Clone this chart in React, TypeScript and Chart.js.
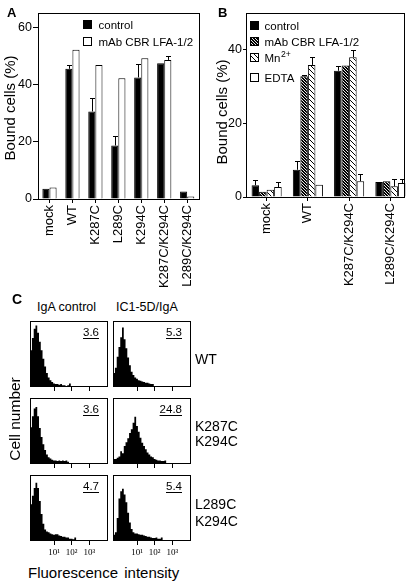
import React, { useEffect, useRef } from 'react';
import { Chart, registerables } from 'chart.js';
Chart.register(...registerables);

const SANS = '"Liberation Sans", Arial, Helvetica, sans-serif';
const SERIF = '"Liberation Serif", "DejaVu Serif", serif';
Chart.defaults.font.family = SANS;
Chart.defaults.color = '#000';

// ---------- Panel A data ----------
const A_CATEGORIES = ['mock', 'WT', 'K287C', 'L289C', 'K294C', 'K287C/K294C', 'L289C/K294C'];
const A_CONTROL = [3.6, 45.5, 30.6, 18.7, 42.5, 47.4, 2.6];
const A_CONTROL_ERR = [null, 47, 35.3, 21.9, 47.2, null, null];
const A_MAB = [4.0, 52.2, 46.8, 42.2, 49.2, 48.6, 0.9];
const A_MAB_ERR = [null, null, null, null, null, 49.9, null];
const A_Y_TICKS = [0, 20, 40, 60];
const A_SERIES = ['control', 'mAb CBR LFA-1/2'];

// ---------- Panel B data ----------
const B_CATEGORIES = ['mock', 'WT', 'K287C/K294C', 'L289C/K294C'];
const B_CONTROL = [3.2, 7.4, 34.3, 4.1];
const B_CONTROL_ERR = [4.7, 9.7, 35.7, null];
const B_MAB = [1.4, 32.8, 35.7, 4.3];
const B_MAB_ERR = [null, 33.2, null, null];
const B_MN = [2.0, 35.9, 38.0, 2.9];
const B_MN_ERR = [null, 38.0, 40.0, 5.0];
const B_EDTA = [2.7, 3.3, 4.3, 3.8];
const B_EDTA_ERR = [4.0, null, 6.3, 5.0];
const B_Y_TICKS = [0, 20, 40];
const B_SERIES = ['control', 'mAb CBR LFA-1/2', 'Mn2+', 'EDTA'];

// ---------- Panel C data (histograms, log10 fluorescence bins) ----------
const HIST_BIN_EDGES = [-0.36, -0.25, -0.15, -0.05, 0.05, 0.15, 0.25, 0.35, 0.45, 0.55, 0.65, 0.75, 0.85, 0.95,
  1.05, 1.15, 1.25, 1.35, 1.45, 1.55, 1.65, 1.75, 1.85, 1.95, 2.05, 2.15, 2.25, 2.35, 2.45, 2.55, 2.65, 2.75, 2.85, 2.95, 3.05];
const HIST_WT_IGA = [40, 55, 74, 88, 93, 82, 68, 55, 42, 30, 20, 13, 9, 6, 4, 3, 3, 2, 3, 1, 1, 0, 1, 4, 0, 0, 0, 0, 0, 0, 0, 0, 0, 0, 0];
const HIST_WT_IC1 = [12, 20, 28, 45, 60, 75, 90, 72, 58, 44, 32, 22, 17, 13, 11, 9, 8, 7, 6, 5, 5, 4, 3, 3, 0, 0, 0, 0, 0, 0, 0, 0, 0, 0, 0];
const HIST_KK_IGA = [33, 55, 72, 84, 86, 72, 54, 40, 29, 20, 13, 9, 7, 5, 4, 4, 3, 4, 3, 4, 3, 4, 2, 0, 0, 0, 0, 0, 0, 0, 0, 0, 0, 0, 0];
const HIST_KK_IC1 = [5, 6, 6, 8, 10, 18, 15, 26, 32, 38, 46, 52, 62, 71, 57, 48, 39, 31, 26, 21, 16, 13, 10, 9, 6, 5, 4, 4, 3, 3, 4, 0, 0, 0, 0];
const HIST_LK_IGA = [44, 55, 68, 80, 88, 80, 60, 40, 25, 16, 13, 12, 10, 9, 8, 9, 9, 7, 6, 5, 5, 4, 4, 2, 2, 1, 4, 0, 0, 0, 0, 0, 0, 0, 0];
const HIST_LK_IC1 = [4, 8, 12, 34, 64, 75, 79, 70, 58, 42, 27, 17, 12, 10, 10, 9, 8, 8, 7, 6, 5, 5, 4, 3, 3, 4, 2, 2, 4, 0, 0, 0, 0, 0, 0];
const HIST_TICKS = [1, 2, 3];
const HIST_TICK_LABELS = ['10¹', '10²', '10³'];
const C_COLUMNS = ['IgA control', 'IC1-5D/IgA'];
const C_ROWS = [['WT'], ['K287C', 'K294C'], ['L289C', 'K294C']];
const C_VALUES = [['3.6', '5.3'], ['3.6', '24.8'], ['4.7', '5.4']];
const C_HISTS = [[HIST_WT_IGA, HIST_WT_IC1], [HIST_KK_IGA, HIST_KK_IC1], [HIST_LK_IGA, HIST_LK_IC1]];

// ---------- plugins ----------
const framePlugin = {
  id: 'frame',
  afterDatasetsDraw(chart: any, _a: any, opts: any) {
    const { ctx, chartArea } = chart;
    const l = Math.round(chartArea.left) + (opts.dl || 0);
    const r = opts.right != null ? opts.right : Math.round(chartArea.right);
    const t = Math.round(chartArea.top), b = Math.round(chartArea.bottom);
    ctx.save();
    ctx.strokeStyle = '#000';
    ctx.lineWidth = 1;
    ctx.strokeRect(l + 0.5, t + 0.5, r - l, b - t);
    ctx.restore();
  },
};

const errPlugin = {
  id: 'errbars',
  afterDatasetsDraw(chart: any) {
    const { ctx } = chart;
    const ys = chart.scales.y;
    ctx.save();
    ctx.strokeStyle = '#000';
    ctx.lineWidth = 1;
    chart.data.datasets.forEach((ds: any, di: number) => {
      if (!ds.errTop) return;
      const meta = chart.getDatasetMeta(di);
      meta.data.forEach((bar: any, i: number) => {
        const e = ds.errTop[i];
        if (e == null) return;
        const x = Math.round(bar.x) + 0.5;
        const y1 = Math.round(ys.getPixelForValue(e)) + 0.5;
        ctx.beginPath();
        ctx.moveTo(x, bar.y);
        ctx.lineTo(x, y1);
        ctx.moveTo(x - 2.5, y1);
        ctx.lineTo(x + 2.5, y1);
        ctx.stroke();
      });
    });
    ctx.restore();
  },
};

const swatchLegend = {
  id: 'swatchLegend',
  afterDraw(chart: any, _a: any, opts: any) {
    if (!opts || !opts.rows) return;
    const { ctx, chartArea } = chart;
    ctx.save();
    chart.data.datasets.forEach((ds: any, i: number) => {
      const s = opts.size;
      const x = Math.round(chartArea.left + opts.x) + 0.5;
      const y = Math.round(chartArea.top + opts.rows[i]) + 0.5;
      ctx.fillStyle = ds.backgroundColor;
      ctx.fillRect(x, y, s, s);
      ctx.strokeStyle = '#000';
      ctx.lineWidth = 1;
      ctx.strokeRect(x, y, s, s);
      ctx.fillStyle = '#000';
      ctx.textBaseline = 'alphabetic';
      const m = /^(.*?)(\d\+)$/.exec(ds.label);
      const base = m ? m[1] : ds.label;
      const tx = x + opts.textDx;
      const ty = y + s / 2 + opts.fontSize * 0.36;
      ctx.font = `${opts.fontSize}px ${SANS}`;
      ctx.fillText(base, tx, ty);
      if (m) {
        const w = ctx.measureText(base).width;
        ctx.font = `${opts.fontSize * 0.75}px ${SANS}`;
        ctx.fillText(m[2], tx + w + 0.5, ty - opts.fontSize * 0.42);
      }
    });
    ctx.restore();
  },
};

function hatch(bg: string, fg: string, size: number, lw: number) {
  const c = document.createElement('canvas');
  c.width = size;
  c.height = size;
  const g = c.getContext('2d')!;
  g.fillStyle = bg;
  g.fillRect(0, 0, size, size);
  g.strokeStyle = fg;
  g.lineWidth = lw;
  g.beginPath();
  g.moveTo(-1, -1); g.lineTo(size + 1, size + 1);
  g.moveTo(-1, size - 1); g.lineTo(1, size + 1);
  g.moveTo(size - 1, -1); g.lineTo(size + 1, 1);
  g.stroke();
  return g.createPattern(c, 'repeat');
}

function barOptions(p: any) {
  return {
    animation: false,
    responsive: false,
    maintainAspectRatio: false,
    events: [],
    layout: { padding: { left: 0, top: 13, right: p.padRight, bottom: 0 } },
    plugins: {
      legend: { display: false },
      tooltip: { enabled: false },
      frame: { right: p.frameRight },
      swatchLegend: { x: p.legendX, rows: p.legendRows, size: 8, textDx: p.textDx, fontSize: 11.5 },
    },
    scales: {
      x: {
        type: 'category',
        afterFit: (s: any) => { s.height = p.xHeight; },
        grid: { display: true, offset: false, drawOnChartArea: false, drawTicks: true, tickLength: 4, color: '#000' },
        border: { display: false },
        ticks: { autoSkip: false, minRotation: 90, maxRotation: 90, padding: 2, font: { size: 13, family: SANS }, color: '#000' },
      },
      y: {
        min: 0,
        max: p.yMax,
        afterFit: (s: any) => { s.width = p.yWidth; },
        afterBuildTicks: (s: any) => { s.ticks = p.yTicks.map((v: number) => ({ value: v })); },
        grid: { display: true, drawOnChartArea: false, drawTicks: true, tickLength: p.yTickLen, color: '#000' },
        border: { display: false },
        ticks: { padding: 1, font: { size: 12.5, family: SANS }, color: '#000' },
      },
    },
  };
}

function makeA() {
  return {
    type: 'bar',
    data: {
      labels: A_CATEGORIES,
      datasets: [
        { label: A_SERIES[0], data: A_CONTROL, errTop: A_CONTROL_ERR, backgroundColor: '#000', borderColor: '#000', borderWidth: 1, barPercentage: 1, categoryPercentage: 0.62 },
        { label: A_SERIES[1], data: A_MAB, errTop: A_MAB_ERR, backgroundColor: '#fff', borderColor: '#000', borderWidth: 1, barPercentage: 1, categoryPercentage: 0.62 },
      ],
    },
    options: barOptions({ padRight: 3, frameRight: 199, xHeight: 89, yWidth: 38, yMax: 65, yTicks: A_Y_TICKS, yTickLen: 5, legendX: 45, legendRows: [7, 24], textDx: 15 }),
    plugins: [framePlugin, errPlugin, swatchLegend],
  };
}

function makeB() {
  const dark = hatch('#000', '#fff', 3, 0.9);
  const light = hatch('#fff', '#000', 5, 1);
  const common = { borderColor: '#000', borderWidth: 1, barPercentage: 1, categoryPercentage: 0.73 };
  return {
    type: 'bar',
    data: {
      labels: B_CATEGORIES,
      datasets: [
        { label: B_SERIES[0], data: B_CONTROL, errTop: B_CONTROL_ERR, backgroundColor: '#000', ...common },
        { label: B_SERIES[1], data: B_MAB, errTop: B_MAB_ERR, backgroundColor: dark, ...common },
        { label: B_SERIES[2], data: B_MN, errTop: B_MN_ERR, backgroundColor: light, ...common },
        { label: B_SERIES[3], data: B_EDTA, errTop: B_EDTA_ERR, backgroundColor: '#fff', ...common },
      ],
    },
    options: barOptions({ padRight: 8, frameRight: 199, xHeight: 91, yWidth: 41, yMax: 50, yTicks: B_Y_TICKS, yTickLen: 3, legendX: 4, legendRows: [8, 24, 40, 60], textDx: 14 }),
    plugins: [framePlugin, errPlugin, swatchLegend],
  };
}

function makeHist(values: number[], showLabels: boolean, extra: number) {
  return {
    type: 'line',
    data: {
      datasets: [{
        data: HIST_BIN_EDGES.map((x, i) => ({ x, y: values[i] })),
        stepped: 'after',
        fill: 'origin',
        backgroundColor: '#000',
        borderColor: '#000',
        borderWidth: 0,
        pointRadius: 0,
      }],
    },
    options: {
      animation: false,
      responsive: false,
      maintainAspectRatio: false,
      events: [],
      layout: { padding: { left: 2, right: 2, top: 2, bottom: 0 } },
      plugins: { legend: { display: false }, tooltip: { enabled: false }, frame: {} },
      scales: {
        x: {
          type: 'linear',
          min: -0.36,
          max: 4.0,
          afterFit: (s: any) => { s.height = extra; },
          afterBuildTicks: (s: any) => { s.ticks = HIST_TICKS.map((v) => ({ value: v })); },
          grid: { display: true, drawOnChartArea: false, drawTicks: true, tickLength: 5, color: '#000' },
          border: { display: false },
          ticks: {
            display: showLabels,
            maxRotation: 0,
            padding: 2,
            font: { size: 9, family: SERIF },
            color: '#000',
            callback: (v: number) => HIST_TICK_LABELS[HIST_TICKS.indexOf(v)],
          },
        },
        y: { display: false, min: 0, max: 100 },
      },
    },
    plugins: [framePlugin],
  };
}

function ChartBox({ left, top, width, height, make }: any) {
  const ref = useRef<HTMLCanvasElement>(null);
  useEffect(() => {
    const chart = new Chart(ref.current as HTMLCanvasElement, make());
    return () => chart.destroy();
  }, []);
  return (
    <canvas ref={ref} width={width} height={height}
      style={{ position: 'absolute', left, top, width, height, display: 'block' }} />
  );
}

function Txt({ x, base, size, children, bold, align, family, underline, wordSpacing }: any) {
  const tx = align === 'right' ? 'translateX(-100%)' : align === 'center' ? 'translateX(-50%)' : 'none';
  return (
    <div style={{
      position: 'absolute', left: x, top: base - 0.85 * size, fontSize: size, lineHeight: `${size}px`,
      fontFamily: family || SANS, fontWeight: bold ? 'bold' : 'normal', whiteSpace: 'nowrap', color: '#000',
      transform: tx, textDecoration: underline ? 'underline' : 'none', textUnderlineOffset: '1.5px', wordSpacing,
    }}>{children}</div>
  );
}

function VTxt({ cx, cy, size, children }: any) {
  return (
    <div style={{
      position: 'absolute', left: cx - 100, top: cy - 8, width: 200, height: 16, textAlign: 'center',
      fontSize: size, lineHeight: '16px', fontFamily: SANS,
      whiteSpace: 'nowrap', color: '#000', transform: 'rotate(-90deg)', transformOrigin: '100px 8px',
    }}>{children}</div>
  );
}

const COL_LEFT = [30, 113];
const ROW_TOP = [321, 398, 475];
const BOX_W = 77;
const BOX_H = 65;

export default function App() {
  const rowLabelBase = [[363.5], [431, 445.5], [508.5, 526]];
  return (
    <div style={{ position: 'absolute', left: 0, top: 0, width: 419, height: 585, background: '#fff', overflow: 'hidden' }}>
      <ChartBox left={0} top={0} width={205} height={288} make={makeA} />
      <ChartBox left={205} top={0} width={214} height={288} make={makeB} />
      <Txt x={7} base={17} size={13} bold>A</Txt>
      <Txt x={218} base={17} size={13} bold>B</Txt>
      <VTxt cx={10} cy={108} size={15}>Bound cells (%)</VTxt>
      <VTxt cx={222} cy={112} size={15}>Bound cells (%)</VTxt>

      <Txt x={12} base={303.5} size={14} bold>C</Txt>
      <Txt x={37} base={312} size={12.5}>{C_COLUMNS[0]}</Txt>
      <Txt x={116} base={312} size={12.5}>{C_COLUMNS[1]}</Txt>
      <VTxt cx={15} cy={419} size={15.5}>Cell number</VTxt>
      <Txt x={28} base={578} size={15} wordSpacing="2px">Fluorescence intensity</Txt>

      {C_HISTS.map((row, r) => row.map((vals, c) => {
        const last = r === C_HISTS.length - 1;
        const extra = last ? 22 : 7;
        return (
          <ChartBox key={`h${r}${c}`} left={COL_LEFT[c] - 2} top={ROW_TOP[r] - 2}
            width={BOX_W + 4} height={BOX_H + 2 + extra}
            make={() => makeHist(vals, last, extra)} />
        );
      }))}
      {C_VALUES.map((row, r) => row.map((v, c) => (
        <Txt key={`v${r}${c}`} x={COL_LEFT[c] + BOX_W - 8} base={ROW_TOP[r] + 15.5} size={11.5} align="right" underline>{v}</Txt>
      )))}
      {C_ROWS.map((lines, r) => lines.map((t, k) => (
        <Txt key={`r${r}${k}`} x={195} base={rowLabelBase[r][k]} size={14}>{t}</Txt>
      )))}
    </div>
  );
}
